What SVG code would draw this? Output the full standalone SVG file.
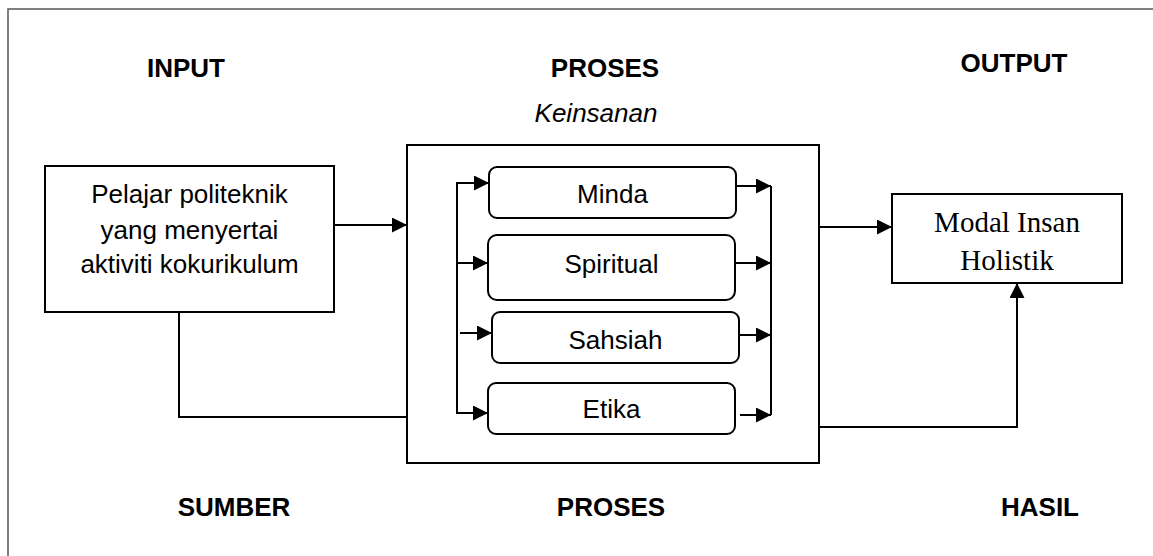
<svg xmlns="http://www.w3.org/2000/svg" width="1153" height="556" viewBox="0 0 1153 556">
<style>
.box{fill:#fff;stroke:#000;stroke-width:2}
.rbox{fill:#fff;stroke:#000;stroke-width:2}
.ln{fill:none;stroke:#000;stroke-width:2}
.t{font-family:"Liberation Sans",Arial,sans-serif;font-size:26px;fill:#000;text-anchor:middle}
.b{font-weight:bold}
.i{font-style:italic}
.s{font-family:"Liberation Serif","Times New Roman",serif;font-size:29px;fill:#000;text-anchor:middle}
</style>
<defs>
<marker id="ah" markerUnits="userSpaceOnUse" markerWidth="16" markerHeight="16" refX="15" refY="7.5" orient="auto">
<path d="M0,0 L15,7.5 L0,15 z" fill="#000"/>
</marker>
</defs>
<rect width="1153" height="556" fill="#fff"/>
<path d="M8,556 V9 H1153" fill="none" stroke="#555" stroke-width="1.5"/>
<g id="labels">
<text class="t b" x="186" y="77">INPUT</text>
<text class="t b" x="605" y="77">PROSES</text>
<text class="t b" x="1014" y="72">OUTPUT</text>
<text class="t i" x="596" y="122">Keinsanan</text>
<text class="t b" x="234" y="516">SUMBER</text>
<text class="t b" x="611" y="516">PROSES</text>
<text class="t b" x="1040" y="516">HASIL</text>
</g>
<g id="input">
<rect class="box" x="45" y="166" width="289" height="146"/>
<text class="t" x="189.5" y="203">Pelajar politeknik</text>
<text class="t" x="189.5" y="239">yang menyertai</text>
<text class="t" x="189.5" y="273">aktiviti kokurikulum</text>
</g>
<g id="proses">
<rect class="box" x="407" y="145" width="412" height="318"/>
</g>
<g id="minda">
<rect class="rbox" x="489" y="167" width="247" height="51" rx="8"/>
<text class="t" x="612.5" y="203">Minda</text>
</g>
<g id="spiritual">
<rect class="rbox" x="488" y="235" width="247" height="65" rx="9"/>
<text class="t" x="611.5" y="273">Spiritual</text>
</g>
<g id="sahsiah">
<rect class="rbox" x="492" y="312" width="247" height="51" rx="8"/>
<text class="t" x="615.5" y="349">Sahsiah</text>
</g>
<g id="etika">
<rect class="rbox" x="488" y="383" width="247" height="51" rx="8"/>
<text class="t" x="611.5" y="418">Etika</text>
</g>
<g id="output">
<rect class="box" x="892" y="194" width="230" height="89"/>
<text class="s" x="1007" y="232">Modal Insan</text>
<text class="s" x="1007" y="270">Holistik</text>
</g>
<g id="connectors">
<path class="ln" d="M334,225 H407" marker-end="url(#ah)"/>
<path class="ln" d="M179,312 V417 H407"/>
<path class="ln" d="M457,183 V413"/>
<path class="ln" d="M456,183 H489" marker-end="url(#ah)"/>
<path class="ln" d="M457,263 H488" marker-end="url(#ah)"/>
<path class="ln" d="M460,333 H492" marker-end="url(#ah)"/>
<path class="ln" d="M456,413 H488" marker-end="url(#ah)"/>
<path class="ln" d="M736,186 H771" marker-end="url(#ah)"/>
<path class="ln" d="M735,263 H771" marker-end="url(#ah)"/>
<path class="ln" d="M739,335 H771" marker-end="url(#ah)"/>
<path class="ln" d="M740,415 H771" marker-end="url(#ah)"/>
<path class="ln" d="M771,186 V415"/>
<path class="ln" d="M819,227 H892" marker-end="url(#ah)"/>
<path class="ln" d="M819,427 H1017 V283" marker-end="url(#ah)"/>
</g>
</svg>
